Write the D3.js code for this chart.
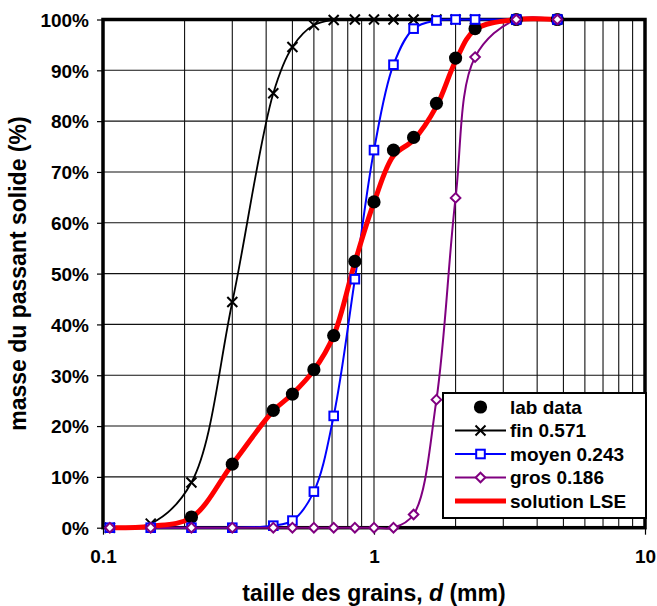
<!DOCTYPE html>
<html>
<head>
<meta charset="utf-8">
<script src="https://cdn.jsdelivr.net/npm/d3@7"></script>
<style>
  body { margin: 0; background: #fff; }
  text { font-family: "Liberation Sans", Arial, sans-serif; font-weight: bold; fill: #000; }
</style>
</head>
<body>
<script>
// sieve openings (mm)
const sieves = [0.106, 0.15, 0.212, 0.3, 0.425, 0.5, 0.6, 0.71, 0.85, 1.0, 1.18, 1.4, 1.7, 2.0, 2.36, 3.35, 4.75];

// % passing
const labData  = [null, null, 2.1, 12.5, 23.1, 26.3, 31.1, 37.8, 52.4, 64.1, 74.3, 76.8, 83.5, 92.4, 98.2, 100, 100];
const fin      = [0, 0.8, 8.9, 44.4, 85.5, 94.6, 98.9, 99.9, 100, 100, 100, 100, 100, 100, 100, 100, 100];
const moyen    = [0, 0, 0, 0, 0.4, 1.4, 7.1, 22.0, 48.9, 74.3, 91.1, 98.2, 99.8, 100, 100, 100, 100];
const gros     = [0, 0, 0, 0, 0, 0, 0, 0, 0, 0, 0, 2.6, 25.2, 64.9, 92.6, 100, 100];
const solution = [0, 0.3, 2.0, 12.5, 23.0, 26.3, 31.0, 37.8, 52.2, 64.0, 73.2, 76.3, 82.9, 91.8, 98.0, 100, 100];

const xTicks = [0.1, 1, 10];
const yTicks = d3.range(0, 101, 10);
const legendLabels = ["lab data", "fin 0.571", "moyen 0.243", "gros 0.186", "solution LSE"];

const width = 657;
const height = 606;
const pLeft = 103, pRight = 645, pTop = 19.5, pBottom = 527.7;

const svg = d3
  .select("body")
  .append("svg")
  .attr("width", width)
  .attr("height", height);

const xScale = d3.scaleLog().domain([0.1, 10]).range([pLeft, pRight]);
const yScale = d3.scaleLinear().domain([0, 100]).range([pBottom, pTop]);

// minor grid (log)
const xGrid = [];
for (let dec of [0.1, 1]) for (let k = 2; k <= 10; k++) xGrid.push(dec * k);

svg
  .append("g")
  .selectAll("line")
  .data(xGrid.filter((d) => d < 10))
  .enter()
  .append("line")
  .attr("x1", (d) => xScale(d))
  .attr("x2", (d) => xScale(d))
  .attr("y1", pTop)
  .attr("y2", pBottom)
  .attr("stroke", "#111")
  .attr("stroke-width", 1.1);

svg
  .append("g")
  .selectAll("line")
  .data(yTicks.slice(1, -1))
  .enter()
  .append("line")
  .attr("x1", pLeft)
  .attr("x2", pRight)
  .attr("y1", (d) => yScale(d))
  .attr("y2", (d) => yScale(d))
  .attr("stroke", "#111")
  .attr("stroke-width", 1.1);

// axes
const yAxis = d3
  .axisLeft(yScale)
  .tickValues(yTicks)
  .tickSize(6)
  .tickFormat((d) => d + "%");

const xAxis = d3
  .axisBottom(xScale)
  .tickValues(xTicks)
  .tickSize(7)
  .tickFormat((d) => String(d));

const gy = svg.append("g").attr("transform", `translate(${pLeft},0)`).call(yAxis);
gy.select(".domain").remove();
gy.selectAll(".tick line").attr("stroke", "#000").attr("stroke-width", 1.2);
gy.selectAll(".tick text")
  .attr("x", -14)
  .attr("dy", "0.36em")
  .style("font-size", "19px");

const gx = svg.append("g").attr("transform", `translate(0,${pBottom})`).call(xAxis);
gx.select(".domain").remove();
gx.selectAll(".tick line").attr("stroke", "#000").attr("stroke-width", 1.2);
gx.selectAll(".tick text")
  .attr("y", 0)
  .attr("dy", 35)
  .style("font-size", "19px");

// frame
svg
  .append("rect")
  .attr("x", pLeft)
  .attr("y", pTop)
  .attr("width", pRight - pLeft)
  .attr("height", pBottom - pTop)
  .attr("fill", "none")
  .attr("stroke", "#000")
  .attr("stroke-width", 3.5);

// titles
svg
  .append("text")
  .attr("x", (pLeft + pRight) / 2)
  .attr("y", 601)
  .attr("text-anchor", "middle")
  .style("font-size", "23px")
  .html('taille des grains, <tspan font-style="italic">d</tspan> (mm)');

svg
  .append("text")
  .attr("transform", `translate(26,${(pTop + pBottom) / 2}) rotate(-90)`)
  .attr("text-anchor", "middle")
  .style("font-size", "23px")
  .text("masse du passant solide (%)");

// series
const pts = (vals) =>
  sieves.map((s, i) => ({ x: s, y: vals[i] })).filter((d) => d.y !== null);

const line = d3
  .line()
  .x((d) => xScale(d.x))
  .y((d) => yScale(d.y))
  .curve(d3.curveCatmullRom.alpha(0.5));

const series = [
  { name: "fin", vals: fin, color: "#000", w: 1.8, marker: "x" },
  { name: "moyen", vals: moyen, color: "#0000ff", w: 2, marker: "square" },
  { name: "gros", vals: gros, color: "#800080", w: 2, marker: "diamond" },
];

series.forEach((s) => {
  svg
    .append("path")
    .datum(pts(s.vals))
    .attr("d", line)
    .attr("fill", "none")
    .attr("stroke", s.color)
    .attr("stroke-width", s.w);
});

svg
  .append("path")
  .datum(pts(solution))
  .attr("d", line)
  .attr("fill", "none")
  .attr("stroke", "#ff0000")
  .attr("stroke-width", 5)
  .attr("stroke-linecap", "round")
  .attr("stroke-linejoin", "round");

function drawMarker(g, type, color, x, y) {
  if (type === "dot") {
    g.append("circle").attr("cx", x).attr("cy", y).attr("r", 6.6).attr("fill", "#000");
  } else if (type === "x") {
    g.append("path")
      .attr("d", `M${x - 5},${y - 5}L${x + 5},${y + 5}M${x - 5},${y + 5}L${x + 5},${y - 5}`)
      .attr("stroke", color)
      .attr("stroke-width", 2)
      .attr("fill", "none");
  } else if (type === "square") {
    g.append("rect")
      .attr("x", x - 4.3)
      .attr("y", y - 4.3)
      .attr("width", 8.6)
      .attr("height", 8.6)
      .attr("fill", "#fff")
      .attr("stroke", color)
      .attr("stroke-width", 2);
  } else if (type === "diamond") {
    g.append("path")
      .attr("d", `M${x},${y - 4.8}L${x + 4.8},${y}L${x},${y + 4.8}L${x - 4.8},${y}Z`)
      .attr("fill", "#fff")
      .attr("stroke", color)
      .attr("stroke-width", 2);
  }
}

const gm = svg.append("g");
pts(labData).forEach((d) => drawMarker(gm, "dot", "#000", xScale(d.x), yScale(d.y)));
series.forEach((s) => {
  pts(s.vals).forEach((d) => drawMarker(gm, s.marker, s.color, xScale(d.x), yScale(d.y)));
});

// legend
const lg = svg.append("g");
lg.append("rect")
  .attr("x", 443)
  .attr("y", 393)
  .attr("width", 203)
  .attr("height", 125)
  .attr("fill", "#fff")
  .attr("stroke", "#000")
  .attr("stroke-width", 2);

const legendItems = [
  { marker: "dot", color: "#000", w: 0 },
  { marker: "x", color: "#000", w: 1.8 },
  { marker: "square", color: "#0000ff", w: 2 },
  { marker: "diamond", color: "#800080", w: 2 },
  { marker: null, color: "#ff0000", w: 5 },
];

legendItems.forEach((it, i) => {
  const cy = 407 + i * 23.5;
  if (it.w > 0) {
    lg.append("line")
      .attr("x1", 455)
      .attr("x2", 506)
      .attr("y1", cy)
      .attr("y2", cy)
      .attr("stroke", it.color)
      .attr("stroke-width", it.w);
  }
  if (it.marker) drawMarker(lg, it.marker, it.color, 480.5, cy);
  lg.append("text")
    .attr("x", 510)
    .attr("y", cy)
    .attr("dy", "0.36em")
    .style("font-size", "19px")
    .text(legendLabels[i]);
});
</script>
</body>
</html>
